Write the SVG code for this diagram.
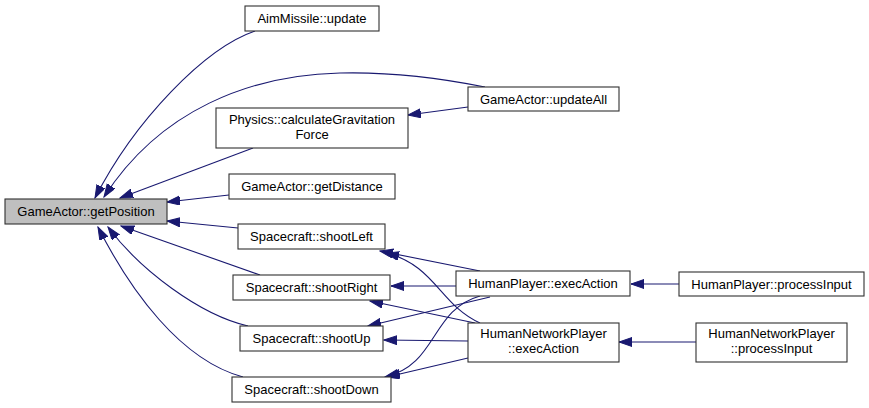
<svg xmlns="http://www.w3.org/2000/svg" width="869" height="408" viewBox="0 0 869 408">
<style>
.n rect{fill:#fff;stroke:#303030;stroke-width:1.1}
.n.h rect{fill:#bfbfbf}
.n text{font-family:"Liberation Sans",Arial,sans-serif;font-size:13px;fill:#000;text-anchor:middle}
.e path{fill:none;stroke:#191970;stroke-width:1.1;marker-end:url(#a)}
</style>
<defs>
<marker id="a" markerUnits="userSpaceOnUse" markerWidth="14" markerHeight="10" refX="13" refY="4.5" orient="auto">
<path d="M0,0 L13,4.5 L0,9 z" fill="#191970" stroke="#191970" stroke-width="1"/>
</marker>
</defs>
<rect width="869" height="408" fill="#fff"/>
<g id="edges" class="e">
<path d="M255,31 C205,48 135,120 95,198"/>
<path d="M485,87 C430,76 380,72 340,73 C250,75 160,110 104,197"/>
<path d="M253,148 L120,198"/>
<path d="M229,195 L167,202"/>
<path d="M238,228 L167,221"/>
<path d="M260,275 L121,226"/>
<path d="M248,326 C200,315 140,270 108,227"/>
<path d="M243,377 C180,360 130,290 98,227"/>
<path d="M468,107 L408,115"/>
<path d="M480,271 L380,251"/>
<path d="M480,323 C440,305 435,265 386,253"/>
<path d="M456,286 L391,286"/>
<path d="M475,323 L370,301"/>
<path d="M490,297 L368,326"/>
<path d="M468,341 L384,340"/>
<path d="M480,296 C430,310 438,365 385,377"/>
<path d="M468,358 L387,377"/>
<path d="M679,284 L631,284"/>
<path d="M696,342 L619,342"/>
</g>
<g id="getPosition" class="n h"><rect x="5" y="199" width="162" height="25"/><text x="86" y="216">GameActor::getPosition</text></g>
<g id="aimMissileUpdate" class="n"><rect x="245" y="6" width="134" height="25"/><text x="312" y="23">AimMissile::update</text></g>
<g id="updateAll" class="n"><rect x="468" y="87" width="151" height="24"/><text x="543.5" y="103.5">GameActor::updateAll</text></g>
<g id="calcGrav" class="n"><rect x="216" y="108" width="192" height="40"/><text x="312" y="123.5">Physics::calculateGravitation</text><text x="312" y="138.5">Force</text></g>
<g id="getDistance" class="n"><rect x="229" y="174" width="166" height="25"/><text x="312" y="191">GameActor::getDistance</text></g>
<g id="shootLeft" class="n"><rect x="238" y="224" width="147" height="25"/><text x="311.5" y="241">Spacecraft::shootLeft</text></g>
<g id="shootRight" class="n"><rect x="233" y="275" width="157" height="25"/><text x="311.5" y="292">Spacecraft::shootRight</text></g>
<g id="shootUp" class="n"><rect x="240" y="326" width="143" height="25"/><text x="311.5" y="343">Spacecraft::shootUp</text></g>
<g id="shootDown" class="n"><rect x="232" y="377" width="159" height="25"/><text x="311.5" y="394">Spacecraft::shootDown</text></g>
<g id="hpExec" class="n"><rect x="456" y="271" width="174" height="25"/><text x="543" y="288">HumanPlayer::execAction</text></g>
<g id="hnpExec" class="n"><rect x="468" y="323" width="151" height="39"/><text x="543.5" y="338">HumanNetworkPlayer</text><text x="543.5" y="353">::execAction</text></g>
<g id="hpProcess" class="n"><rect x="679" y="272" width="185" height="24"/><text x="771.5" y="288.5">HumanPlayer::processInput</text></g>
<g id="hnpProcess" class="n"><rect x="696" y="323" width="151" height="39"/><text x="771.5" y="338">HumanNetworkPlayer</text><text x="771.5" y="353">::processInput</text></g>
</svg>
